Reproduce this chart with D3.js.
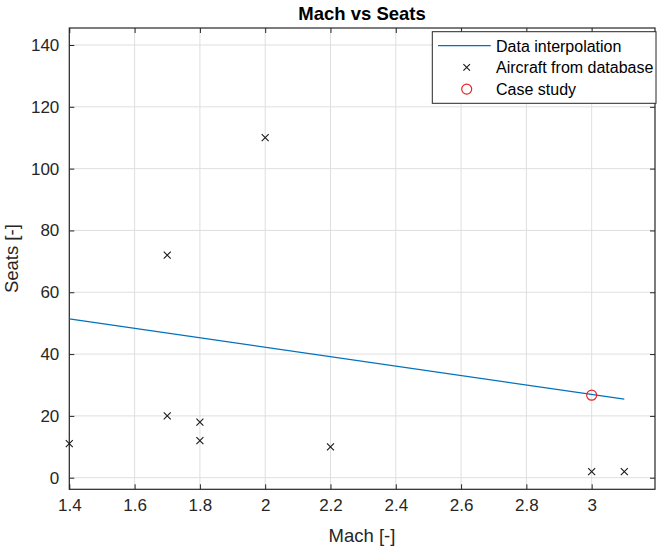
<!DOCTYPE html>
<html>
<head>
<meta charset="utf-8">
<script src="https://cdn.jsdelivr.net/npm/d3@7"></script>
<style>
  html, body { margin: 0; padding: 0; background: #fff; }
  svg { display: block; }
  text { font-family: "Liberation Sans", Arial, Helvetica, sans-serif; }
</style>
</head>
<body>
<svg id="chart" width="657" height="550"></svg>
<script>
// Data
const aircraftMach  = [1.4, 1.7, 1.7, 1.8, 1.8, 2.0, 2.2, 3.0, 3.1];
const aircraftSeats = [11, 72, 20, 18, 12, 110, 10, 2, 2];
const interpMach  = [1.4, 3.1];
const interpSeats = [51.4, 25.4];
const caseMach  = [3.0];
const caseSeats = [26.7];
const xTicks = [1.4, 1.6, 1.8, 2.0, 2.2, 2.4, 2.6, 2.8, 3.0];
const yTicks = [0, 20, 40, 60, 80, 100, 120, 140];
const legendLabels = ["Data interpolation", "Aircraft from database", "Case study"];

const svg = d3.select("#chart");
const L = 69.3, R = 655, T = 28, B = 489.3;
const x = d3.scaleLinear().domain([1.4, 3.194]).range([L, R]);
const y = d3.scaleLinear().domain([-3.75, 145.5]).range([B, T]);

const axisColor = "#262626";
const gridColor = "#dfdfdf";

// Grid
const g = svg.append("g");
g.selectAll(".gx").data(xTicks).enter().append("line")
  .attr("x1", d => x(d)).attr("x2", d => x(d)).attr("y1", T).attr("y2", B)
  .attr("stroke", gridColor).attr("stroke-width", 1);
g.selectAll(".gy").data(yTicks).enter().append("line")
  .attr("y1", d => y(d)).attr("y2", d => y(d)).attr("x1", L).attr("x2", R)
  .attr("stroke", gridColor).attr("stroke-width", 1);

// Axes (ticks inward)
const fmt = d => d3.format("")(+d.toFixed(1));
const xAxisB = d3.axisBottom(x).tickValues(xTicks).tickSizeInner(-5).tickSizeOuter(0).tickPadding(10).tickFormat(fmt);
const xAxisT = d3.axisTop(x).tickValues(xTicks).tickSizeInner(-5).tickSizeOuter(0).tickFormat("");
const yAxisL = d3.axisLeft(y).tickValues(yTicks).tickSizeInner(-5).tickSizeOuter(0).tickPadding(10);
const yAxisR = d3.axisRight(y).tickValues(yTicks).tickSizeInner(-5).tickSizeOuter(0).tickFormat("");

function styleAxis(sel) {
  sel.select(".domain").remove();
  sel.selectAll("line").attr("stroke", axisColor).attr("stroke-width", 1);
  sel.selectAll("text").attr("fill", axisColor).style("font-size", "17px")
     .style("font-family", "'Liberation Sans', Arial, sans-serif");
}
svg.append("g").attr("transform", `translate(0,${B})`).call(xAxisB).call(styleAxis);
svg.append("g").attr("transform", `translate(0,${T})`).call(xAxisT).call(styleAxis);
svg.append("g").attr("transform", `translate(${L},0)`).call(yAxisL).call(styleAxis);
svg.append("g").attr("transform", `translate(${R},0)`).call(yAxisR).call(styleAxis);

// Box
svg.append("rect").attr("x", L).attr("y", T).attr("width", R - L).attr("height", B - T)
  .attr("fill", "none").attr("stroke", axisColor).attr("stroke-width", 1.2);

// Interpolation line
const lineData = interpMach.map((m, i) => [m, interpSeats[i]]);
svg.append("path").datum(lineData)
  .attr("d", d3.line().x(d => x(d[0])).y(d => y(d[1])))
  .attr("fill", "none").attr("stroke", "#0072BD").attr("stroke-width", 1.3);

// Aircraft markers (x)
const xm = 3.5;
const acData = aircraftMach.map((m, i) => [m, aircraftSeats[i]]);
svg.append("g").selectAll("path").data(acData).enter().append("path")
  .attr("d", d => {
    const cx = x(d[0]), cy = y(d[1]);
    return `M${cx-xm},${cy-xm}L${cx+xm},${cy+xm}M${cx-xm},${cy+xm}L${cx+xm},${cy-xm}`;
  })
  .attr("stroke", "#1a1a1a").attr("stroke-width", 1.1).attr("fill", "none");

// Case study circle
const csData = caseMach.map((m, i) => [m, caseSeats[i]]);
svg.append("g").selectAll("circle").data(csData).enter().append("circle")
  .attr("cx", d => x(d[0])).attr("cy", d => y(d[1])).attr("r", 5)
  .attr("fill", "none").attr("stroke", "#e8242a").attr("stroke-width", 1.2);

// Title
svg.append("text").attr("x", 362).attr("y", 20).attr("text-anchor", "middle")
  .style("font-size", "18.5px").style("font-weight", "bold").attr("fill", "#000")
  .text("Mach vs Seats");

// Axis labels
svg.append("text").attr("x", 362).attr("y", 542).attr("text-anchor", "middle")
  .style("font-size", "18.5px").attr("fill", axisColor).text("Mach [-]");
svg.append("text").attr("transform", `translate(18,${(T + B) / 2}) rotate(-90)`)
  .attr("text-anchor", "middle")
  .style("font-size", "18.5px").attr("fill", axisColor).text("Seats [-]");

// Legend
const lg = svg.append("g");
lg.append("rect").attr("x", 432.3).attr("y", 31.7).attr("width", 656 - 432.3).attr("height", 103.3 - 31.7)
  .attr("fill", "#fff").attr("stroke", axisColor).attr("stroke-width", 1);
const rowY = [45.7, 67.4, 89.1];
lg.append("line").attr("x1", 438).attr("x2", 490.7).attr("y1", rowY[0]).attr("y2", rowY[0])
  .attr("stroke", "#0072BD").attr("stroke-width", 1.3);
{
  const cx = 466.7, cy = rowY[1], s = 3.3;
  lg.append("path").attr("d", `M${cx-s},${cy-s}L${cx+s},${cy+s}M${cx-s},${cy+s}L${cx+s},${cy-s}`)
    .attr("stroke", "#1a1a1a").attr("stroke-width", 1.1);
}
lg.append("circle").attr("cx", 466.7).attr("cy", rowY[2]).attr("r", 5)
  .attr("fill", "none").attr("stroke", "#e8242a").attr("stroke-width", 1.2);
lg.selectAll("text.lt").data(legendLabels).enter().append("text")
  .attr("x", 496).attr("y", (d, i) => rowY[i] + 6)
  .style("font-size", "16px").attr("fill", "#000").text(d => d);
</script>
</body>
</html>
